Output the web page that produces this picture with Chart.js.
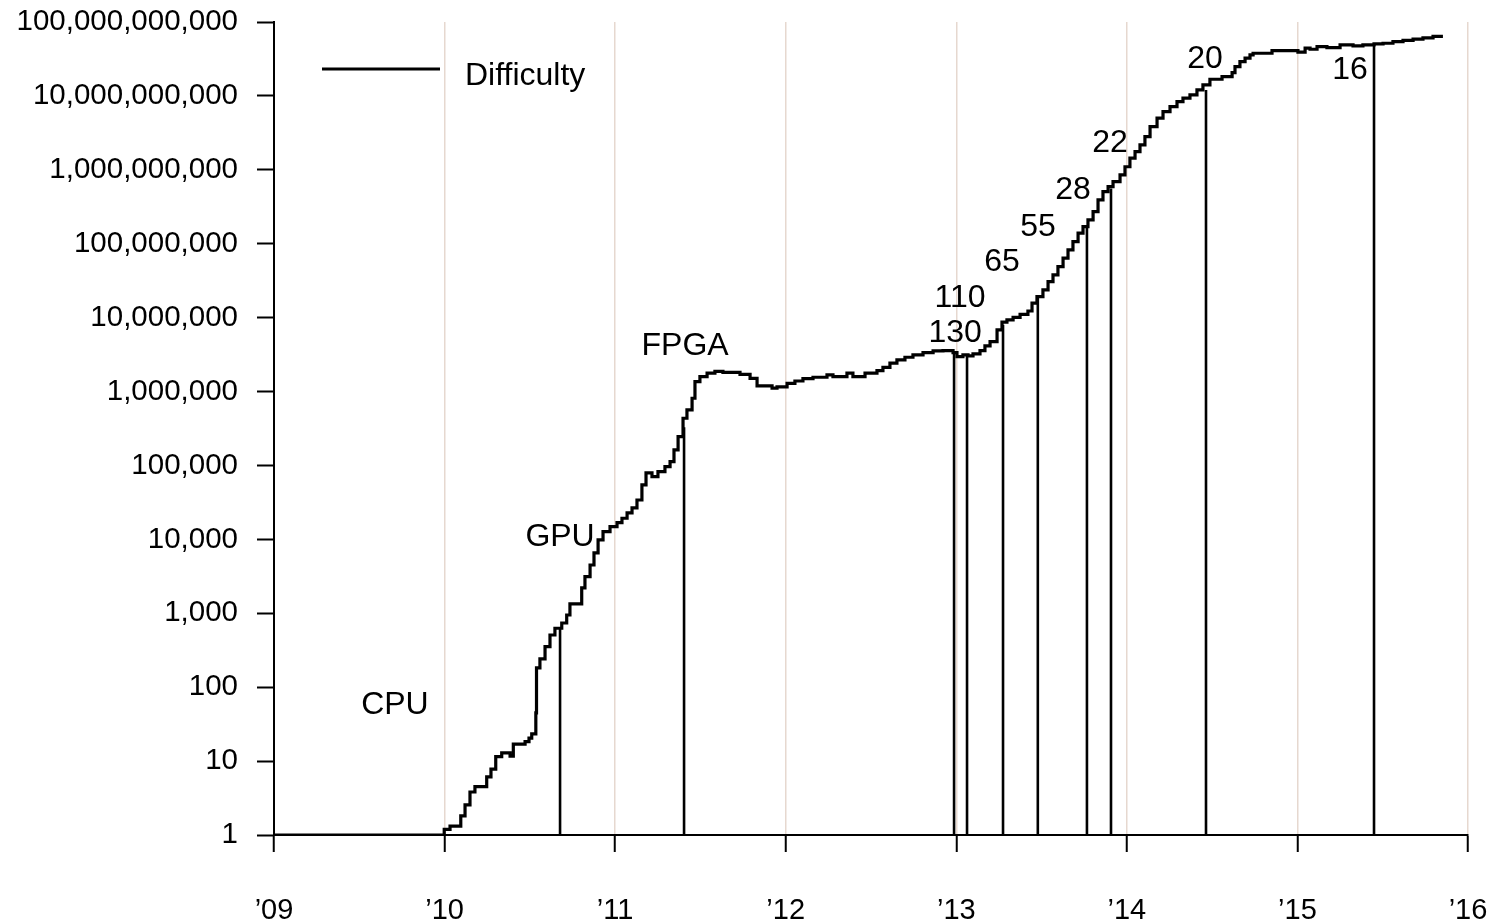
<!DOCTYPE html>
<html><head><meta charset="utf-8">
<script src="https://cdn.jsdelivr.net/npm/chart.js@4/dist/chart.umd.min.js"></script>
<style>html,body{margin:0;padding:0;background:#fff;}#wrap{width:1490px;height:924px;}</style>
</head><body><div id="wrap"><canvas id="c" width="1490" height="924"></canvas></div>
<script>
const seriesName = 'Difficulty';
const diffYears = [2009.000, 2009.998, 2010.032, 2010.095, 2010.120, 2010.149, 2010.178, 2010.247, 2010.272, 2010.300,
  2010.335, 2010.384, 2010.403, 2010.472, 2010.495, 2010.511, 2010.535, 2010.539, 2010.559, 2010.589,
  2010.618, 2010.647, 2010.687, 2010.716, 2010.735, 2010.804, 2010.823, 2010.853, 2010.876, 2010.900,
  2010.929, 2010.970, 2011.011, 2011.040, 2011.070, 2011.099, 2011.128, 2011.157, 2011.181, 2011.216,
  2011.251, 2011.292, 2011.322, 2011.345, 2011.369, 2011.398, 2011.421, 2011.451, 2011.468, 2011.497,
  2011.539, 2011.585, 2011.632, 2011.732, 2011.791, 2011.832, 2011.920, 2011.949, 2012.008, 2012.054,
  2012.101, 2012.160, 2012.242, 2012.277, 2012.359, 2012.394, 2012.465, 2012.535, 2012.570, 2012.611,
  2012.652, 2012.699, 2012.746, 2012.805, 2012.864, 2012.922, 2012.981, 2013.004, 2013.039, 2013.069,
  2013.098, 2013.139, 2013.168, 2013.198, 2013.239, 2013.268, 2013.297, 2013.333, 2013.374, 2013.420,
  2013.444, 2013.473, 2013.508, 2013.538, 2013.567, 2013.596, 2013.626, 2013.655, 2013.684, 2013.714,
  2013.743, 2013.772, 2013.802, 2013.831, 2013.860, 2013.890, 2013.919, 2013.960, 2013.989, 2014.018,
  2014.048, 2014.077, 2014.106, 2014.136, 2014.177, 2014.212, 2014.253, 2014.294, 2014.329, 2014.370,
  2014.411, 2014.446, 2014.487, 2014.558, 2014.617, 2014.634, 2014.663, 2014.693, 2014.722, 2014.740,
  2014.851, 2015.003, 2015.045, 2015.074, 2015.115, 2015.173, 2015.250, 2015.326, 2015.384, 2015.449,
  2015.502, 2015.560, 2015.619, 2015.678, 2015.736, 2015.795, 2015.853];
const diffValues = [1, 1.19, 1.32, 1.81, 2.55, 3.82, 4.5, 6.1, 7.8, 11.5,
  12.9, 11.7, 17.0, 18.3, 20.5, 23.3, 45, 182, 241, 353,
  508, 627, 739, 948, 1336, 2200, 3130, 4500, 6550, 9820,
  12700, 14860, 16830, 19300, 22760, 26600, 34100, 54500, 79200, 70500,
  82400, 96400, 112500, 162000, 245000, 435000, 564000, 811000, 1.36e6, 1.59e6,
  1.77e6, 1.88e6, 1.82e6, 1.71e6, 1.51e6, 1.19e6, 1.11e6, 1.16e6, 1.29e6, 1.39e6,
  1.50e6, 1.56e6, 1.68e6, 1.59e6, 1.77e6, 1.59e6, 1.77e6, 1.92e6, 2.13e6, 2.42e6,
  2.68e6, 2.91e6, 3.13e6, 3.36e6, 3.54e6, 3.58e6, 3.36e6, 2.97e6, 3.13e6, 3.03e6,
  3.23e6, 3.58e6, 4.14e6, 4.73e6, 6.82e6, 8.67e6, 9.31e6, 10.1e6, 11.1e6, 12.3e6,
  15.7e6, 19.2e6, 23.7e6, 30.7e6, 37.8e6, 49.0e6, 63.7e6, 82.4e6, 107e6, 139e6,
  170e6, 210e6, 272e6, 392e6, 507e6, 593e6, 692e6, 853e6, 1.10e9, 1.44e9,
  1.76e9, 2.17e9, 2.81e9, 3.84e9, 4.99e9, 6.14e9, 7.16e9, 8.37e9, 9.31e9, 10.3e9,
  12.1e9, 14.1e9, 16.8e9, 18.2e9, 20.7e9, 24.9e9, 29.1e9, 32.4e9, 35.9e9, 37.8e9,
  41.0e9, 39.0e9, 44.2e9, 42.8e9, 46.5e9, 45.1e9, 49.0e9, 47.5e9, 49.0e9, 50.6e9,
  51.6e9, 54.3e9, 56.4e9, 58.5e9, 60.9e9, 64.0e9, 64.0e9];

const markerYears  = [2010.677, 2011.404, 2012.987, 2013.063, 2013.274, 2013.478, 2013.766, 2013.907, 2014.464, 2015.449];
const markerValues = [627, 330000, 3.36e6, 3.13e6, 8.0e6, 19.2e6, 170e6, 560e6, 12.0e9, 50.6e9];

const labelTexts  = ['CPU', 'GPU', 'FPGA', '130', '110', '65', '55', '28', '22', '20', '16'];
const labelYears  = [2009.709, 2010.677, 2011.410, 2012.993, 2013.022, 2013.268, 2013.479, 2013.684, 2013.901, 2014.458, 2015.308];
const labelValues = [57, 10800, 4.14e6, 6.2e6, 18.5e6, 56.7e6, 169e6, 535e6, 2.31e9, 31.7e9, 22.5e9];

const xTickValues = [2009, 2010, 2011, 2012, 2013, 2014, 2015, 2016];
const xTickLabels = ['\u201909', '\u201910', '\u201911', '\u201912', '\u201913', '\u201914', '\u201915', '\u201916'];
const yTickValues = [1, 10, 100, 1e3, 1e4, 1e5, 1e6, 1e7, 1e8, 1e9, 1e10, 1e11];

const FONT = "'Liberation Sans', Arial, Helvetica, sans-serif";

function commas(v) {
  return String(Math.round(v)).replace(/\B(?=(\d{3})+(?!\d))/g, ',');
}

const datasets = [{
  label: seriesName,
  data: diffYears.map((x, i) => ({x: x, y: diffValues[i]})),
  borderColor: '#000',
  borderWidth: 3.2,
  stepped: true,
  pointRadius: 0,
  fill: false,
  borderJoinStyle: 'miter',
  borderCapStyle: 'butt'
}];
markerYears.forEach((x, i) => {
  datasets.push({
    label: 'marker' + i,
    data: [{x: x, y: 1}, {x: x, y: markerValues[i]}],
    borderColor: '#000',
    borderWidth: 2.6,
    pointRadius: 0,
    fill: false,
    borderCapStyle: 'butt'
  });
});

const annotatePlugin = {
  id: 'annotate',
  afterDatasetsDraw(chart) {
    const ctx = chart.ctx;
    const xs = chart.scales.x, ys = chart.scales.y;
    ctx.save();
    ctx.fillStyle = '#000';
    ctx.font = '32px ' + FONT;
    ctx.textAlign = 'center';
    ctx.textBaseline = 'middle';
    labelTexts.forEach((t, i) => {
      ctx.fillText(t, xs.getPixelForValue(labelYears[i]), ys.getPixelForValue(labelValues[i]));
    });
    // legend
    const ds = chart.data.datasets[0];
    ctx.strokeStyle = ds.borderColor;
    ctx.lineWidth = 3;
    ctx.beginPath();
    ctx.moveTo(322, 69);
    ctx.lineTo(440, 69);
    ctx.stroke();
    ctx.textAlign = 'left';
    ctx.fillText(ds.label, 465, 76);
    ctx.restore();
  }
};

new Chart(document.getElementById('c'), {
  type: 'line',
  data: {datasets: datasets},
  plugins: [annotatePlugin],
  options: {
    responsive: false,
    animation: false,
    devicePixelRatio: 1,
    parsing: false,
    layout: {padding: {left: 0, right: 22, top: 22, bottom: 0}},
    plugins: {legend: {display: false}, tooltip: {enabled: false}},
    scales: {
      x: {
        type: 'linear', min: 2009, max: 2016,
        afterBuildTicks: s => { s.ticks = xTickValues.map(v => ({value: v})); },
        afterFit: s => { s.height = 89; s.paddingLeft = 0; s.paddingRight = 0; s.paddingTop = 0; s.paddingBottom = 0; },
        grid: {color: '#e6d8cf', lineWidth: 1.5, tickColor: '#000', tickLength: 17, tickWidth: 2, drawTicks: true},
        border: {color: '#000', width: 2},
        ticks: {
          callback: v => xTickLabels[xTickValues.indexOf(v)],
          font: {family: FONT, size: 29}, color: '#000', padding: 42, maxRotation: 0, autoSkip: false
        }
      },
      y: {
        type: 'logarithmic', min: 1, max: 1e11,
        afterBuildTicks: s => { s.ticks = yTickValues.map(v => ({value: v})); },
        afterFit: s => { s.width = 274; s.paddingLeft = 0; s.paddingRight = 0; s.paddingTop = 0; s.paddingBottom = 0; },
        grid: {drawOnChartArea: false, tickColor: '#000', tickLength: 17, tickWidth: 2},
        border: {color: '#000', width: 2},
        ticks: {
          callback: v => commas(v),
          font: {family: FONT, size: 29.5}, color: '#000', padding: 19, autoSkip: false
        }
      }
    }
  }
});
</script>
</body></html>
